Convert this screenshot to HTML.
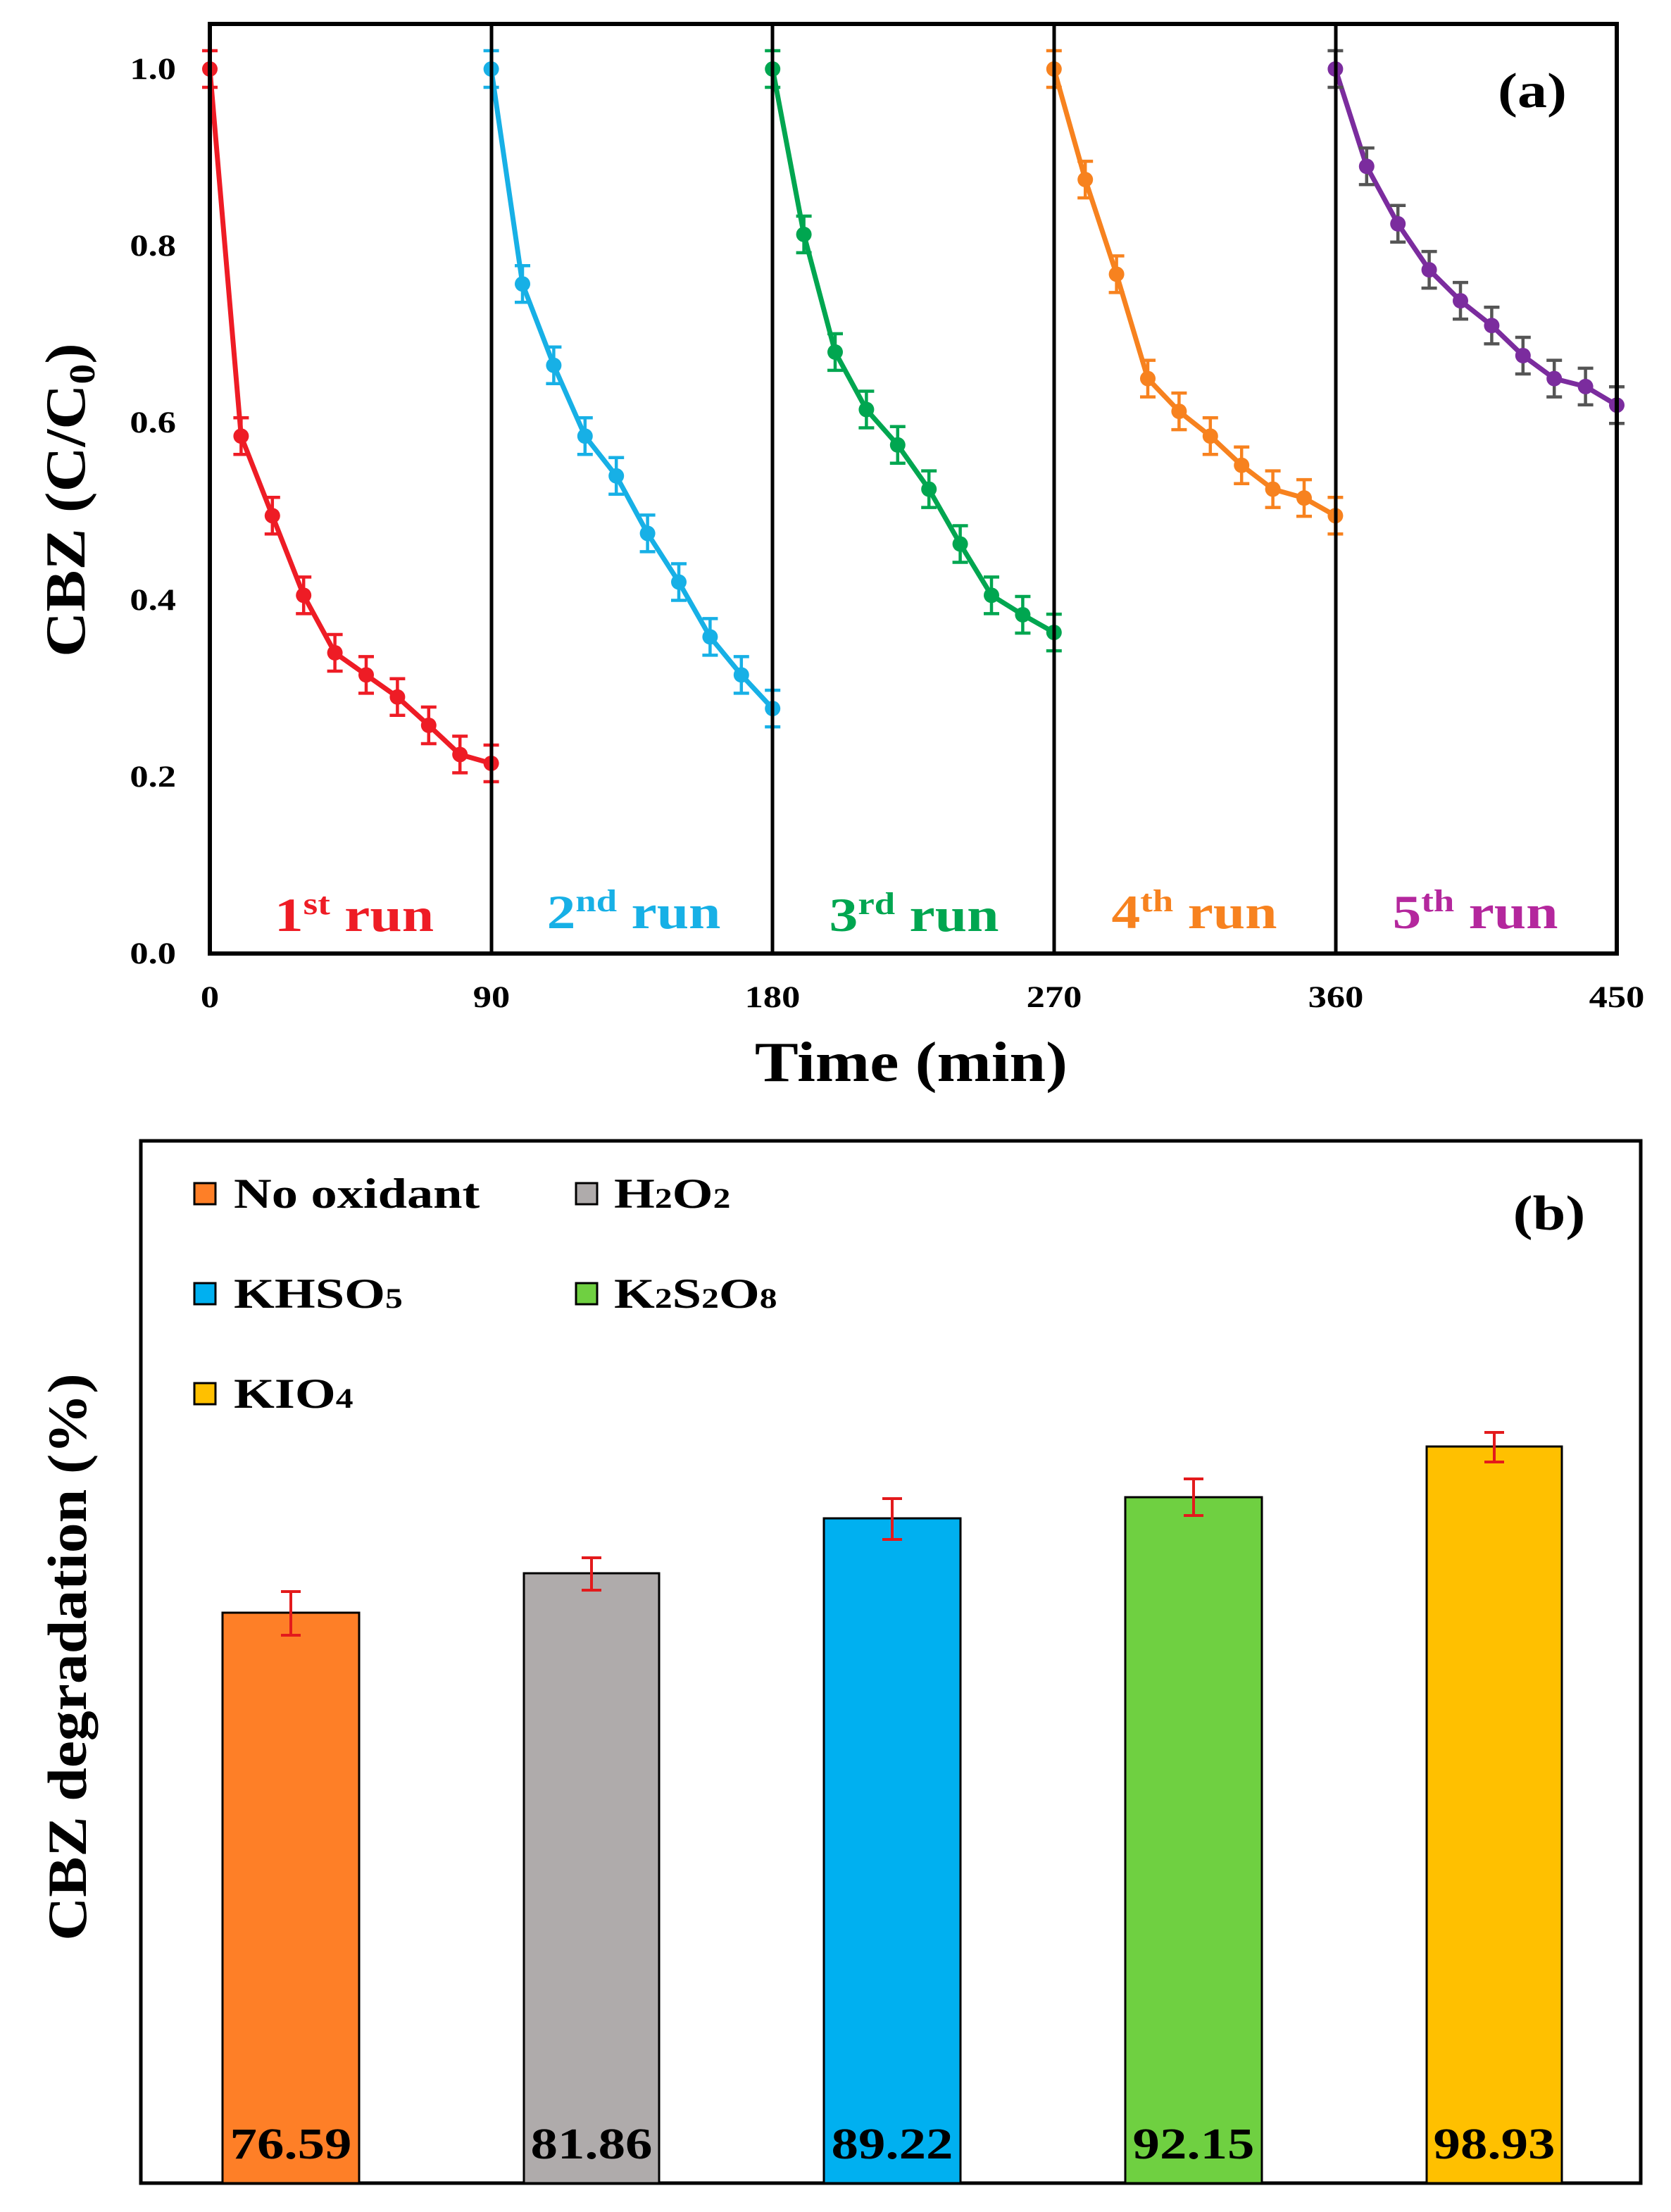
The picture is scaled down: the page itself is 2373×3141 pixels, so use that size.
<!DOCTYPE html>
<html><head><meta charset="utf-8"><style>
html,body{margin:0;padding:0;background:#fff}
svg{display:block}
text{font-family:"Liberation Serif",serif;font-weight:bold}
</style></head><body>
<svg id="s" width="2373" height="3141" viewBox="0 0 2373 3141" xmlns="http://www.w3.org/2000/svg">
<rect width="2373" height="3141" fill="#fff"/>
<g id="a"></g>
<rect x="298" y="34" width="1998" height="1320" fill="none" stroke="#000" stroke-width="6"/>
<g stroke="#000" stroke-width="5">
<line x1="698" y1="34" x2="698" y2="1354"/>
<line x1="1097" y1="34" x2="1097" y2="1354"/>
<line x1="1497" y1="34" x2="1497" y2="1354"/>
<line x1="1897" y1="34" x2="1897" y2="1354"/>
</g>
<g font-size="43" text-anchor="end">
<text transform="translate(250,112) scale(1.22,1)">1.0</text>
<text transform="translate(250,363) scale(1.22,1)">0.8</text>
<text transform="translate(250,614) scale(1.22,1)">0.6</text>
<text transform="translate(250,866) scale(1.22,1)">0.4</text>
<text transform="translate(250,1117) scale(1.22,1)">0.2</text>
<text transform="translate(250,1368) scale(1.22,1)">0.0</text>
</g>
<g font-size="43" text-anchor="middle">
<text transform="translate(298,1430) scale(1.22,1)">0</text>
<text transform="translate(698,1430) scale(1.22,1)">90</text>
<text transform="translate(1097,1430) scale(1.22,1)">180</text>
<text transform="translate(1497,1430) scale(1.22,1)">270</text>
<text transform="translate(1897,1430) scale(1.22,1)">360</text>
<text transform="translate(2296,1430) scale(1.22,1)">450</text>
</g>
<text transform="translate(1294,1535) scale(1.16,1)" font-size="80" text-anchor="middle">Time (min)</text>
<text transform="translate(120,710) rotate(-90) scale(1.11,1)" font-size="80" text-anchor="middle">CBZ (C/C<tspan font-size="52" dy="14">0</tspan><tspan dy="-14">)</tspan></text>
<text transform="translate(2176,152) scale(1.2,1)" font-size="70" text-anchor="middle">(a)</text>
<g font-size="68" text-anchor="middle">
<text transform="translate(503,1322) scale(1.2,1)" fill="#ee1c25">1<tspan font-size="44" dy="-24">st</tspan><tspan dy="24"> run</tspan></text>
<text transform="translate(900,1318) scale(1.2,1)" fill="#17b0e6">2<tspan font-size="44" dy="-24">nd</tspan><tspan dy="24"> run</tspan></text>
<text transform="translate(1298,1322) scale(1.2,1)" fill="#00a650">3<tspan font-size="44" dy="-24">rd</tspan><tspan dy="24"> run</tspan></text>
<text transform="translate(1696,1318) scale(1.2,1)" fill="#f7821f">4<tspan font-size="44" dy="-24">th</tspan><tspan dy="24"> run</tspan></text>
<text transform="translate(2095,1318) scale(1.2,1)" fill="#b4279d">5<tspan font-size="44" dy="-24">th</tspan><tspan dy="24"> run</tspan></text>
</g>

<rect x="200" y="1620" width="2130" height="1480" fill="none" stroke="#000" stroke-width="5"/>
<g stroke="#000" stroke-width="3">
<rect x="316" y="2290" width="194" height="810" fill="#fe7f27"/>
<rect x="744" y="2234" width="192" height="866" fill="#afabab"/>
<rect x="1170" y="2156" width="194" height="944" fill="#00b0f0"/>
<rect x="1598" y="2126" width="194" height="974" fill="#6fd041"/>
<rect x="2026" y="2054" width="192" height="1046" fill="#ffc000"/>
</g>
<g stroke="#e31a1c" stroke-width="4">
<path d="M413 2260V2322M399 2260H427M399 2322H427"/>
<path d="M840 2212V2258M826 2212H854M826 2258H854"/>
<path d="M1267 2128V2186M1253 2128H1281M1253 2186H1281"/>
<path d="M1695 2100V2152M1681 2100H1709M1681 2152H1709"/>
<path d="M2122 2034V2076M2108 2034H2136M2108 2076H2136"/>
</g>
<g font-size="62" text-anchor="middle">
<text transform="translate(413,3065) scale(1.24,1)">76.59</text>
<text transform="translate(840,3065) scale(1.24,1)">81.86</text>
<text transform="translate(1267,3065) scale(1.24,1)">89.22</text>
<text transform="translate(1695,3065) scale(1.24,1)">92.15</text>
<text transform="translate(2122,3065) scale(1.24,1)">98.93</text>
</g>
<g stroke="#000" stroke-width="3">
<rect x="276" y="1680" width="30" height="30" fill="#fe7f27"/>
<rect x="818" y="1680" width="30" height="30" fill="#afabab"/>
<rect x="276" y="1822" width="30" height="30" fill="#00b0f0"/>
<rect x="818" y="1822" width="30" height="30" fill="#6fd041"/>
<rect x="276" y="1964" width="30" height="30" fill="#ffc000"/>
</g>
<g font-size="60">
<text transform="translate(332,1715) scale(1.24,1)">No oxidant</text>
<text transform="translate(872,1715) scale(1.24,1)">H<tspan font-size="40">2</tspan>O<tspan font-size="40">2</tspan></text>
<text transform="translate(332,1857) scale(1.24,1)">KHSO<tspan font-size="40">5</tspan></text>
<text transform="translate(872,1857) scale(1.24,1)">K<tspan font-size="40">2</tspan>S<tspan font-size="40">2</tspan>O<tspan font-size="40">8</tspan></text>
<text transform="translate(332,1999) scale(1.24,1)">KIO<tspan font-size="40">4</tspan></text>
</g>
<text transform="translate(2200,1746) scale(1.2,1)" font-size="70" text-anchor="middle">(b)</text>
<text transform="translate(122,2353) rotate(-90) scale(1.1,1)" font-size="78" text-anchor="middle">CBZ degradation (%)</text>
</svg>
<script>
var data=[
["#ee1c25","#ee1c25",[1.0,0.585,0.495,0.405,0.34,0.315,0.29,0.258,0.225,0.215]],
["#17b0e6","#17b0e6",[1.0,0.757,0.665,0.585,0.54,0.475,0.42,0.358,0.315,0.277]],
["#00a650","#00a650",[1.0,0.813,0.68,0.615,0.575,0.525,0.463,0.405,0.383,0.363]],
["#f7821f","#f7821f",[1.0,0.875,0.768,0.65,0.613,0.585,0.552,0.525,0.515,0.495]],
["#7b2c9e","#555555",[1.0,0.89,0.825,0.773,0.738,0.71,0.676,0.65,0.641,0.62]]];
var g=document.getElementById('a'),h="";
function X(t){return 298+t*1998/450}
function Y(v){return 1354-v*1256}
data.forEach(function(d,i){
 var pts=d[2].map(function(v,j){return [X(i*90+j*10),Y(v)]});
 h+='<polyline fill="none" stroke="'+d[0]+'" stroke-width="7" stroke-linejoin="round" points="'+pts.map(function(p){return p.join(',')}).join(' ')+'"/>';
 pts.forEach(function(p){
  var e=26;
  h+='<path stroke="'+d[1]+'" stroke-width="4.5" fill="none" d="M'+p[0]+' '+(p[1]-e)+'V'+(p[1]+e)+'M'+(p[0]-11)+' '+(p[1]-e)+'h22M'+(p[0]-11)+' '+(p[1]+e)+'h22"/>';
  h+='<circle cx="'+p[0]+'" cy="'+p[1]+'" r="11" fill="'+d[0]+'"/>';
 });
});
g.innerHTML=h;
</script>
</body></html>
